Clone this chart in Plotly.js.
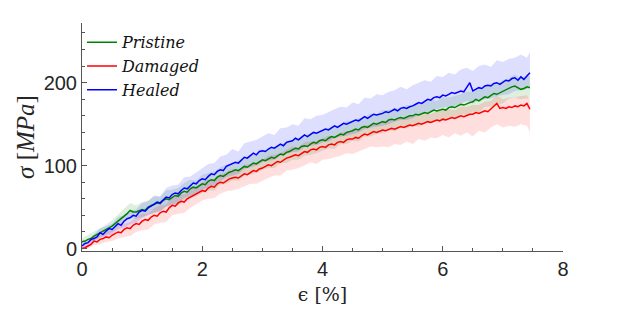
<!DOCTYPE html>
<html>
<head>
<meta charset="utf-8">
<script src="https://cdn.plot.ly/plotly-3.0.1.min.js"></script>
<style>html,body{margin:0;padding:0;background:#fff;}#chart{width:623px;height:312px;}</style>
</head>
<body>
<div id="chart"></div>
<script>
// strain grid for mean curves (%)
const epsMean = [0,0.05,0.1,0.15,0.2,0.25,0.3,0.35,0.4,0.45,0.5,0.55,0.6,0.65,0.7,0.75,0.8,0.85,0.9,0.95,
1,1.05,1.1,1.15,1.2,1.25,1.3,1.35,1.4,1.45,1.5,1.55,1.6,1.65,1.7,1.75,1.8,1.85,1.9,1.95,
2,2.05,2.1,2.15,2.2,2.25,2.3,2.35,2.4,2.45,2.5,2.55,2.6,2.65,2.7,2.75,2.8,2.85,2.9,2.95,
3,3.05,3.1,3.15,3.2,3.25,3.3,3.35,3.4,3.45,3.5,3.55,3.6,3.65,3.7,3.75,3.8,3.85,3.9,3.95,
4,4.05,4.1,4.15,4.2,4.25,4.3,4.35,4.4,4.45,4.5,4.55,4.6,4.65,4.7,4.75,4.8,4.85,4.9,4.95,
5,5.05,5.1,5.15,5.2,5.25,5.3,5.35,5.4,5.45,5.5,5.55,5.6,5.65,5.7,5.75,5.8,5.85,5.9,5.95,
6,6.05,6.1,6.15,6.2,6.25,6.3,6.35,6.4,6.45,6.5,6.55,6.6,6.65,6.7,6.75,6.8,6.85,6.9,6.95,
7,7.05,7.1,7.15,7.2,7.25,7.3,7.35,7.4,7.45];

const healedMean = [3,6,7,11,12,14,19,17,21,24,23,27,30,28,33,36,37,40,39,44,
46,45,49,51,53,56,55,59,62,61,65,67,66,70,73,72,76,79,78,82,
84,83,87,90,89,93,95,94,99,101,102,104,103,107,110,109,112,115,113,117,
118,117,120,122,121,124,126,124,128,129,130,133,131,134,137,135,138,140,139,141,
142,144,143,146,148,146,149,151,150,152,153,155,154,157,159,157,160,162,161,162,
163,165,164,166,168,166,169,170,169,171,172,174,176,175,178,180,179,182,183,182,
185,184,186,188,187,189,190,189,194,200,190,192,194,193,196,197,196,199,200,198,
201,203,202,205,206,203,207,204,208,212];

const pristineMean = [8,9,11,12,15,17,18,21,23,24,27,30,33,35,39,42,46,44,44,46,
47,46,50,52,53,55,54,58,60,59,62,64,63,67,69,68,72,74,73,76,
78,77,81,83,82,86,88,87,90,92,93,95,94,97,99,98,101,103,102,105,
107,106,108,110,109,112,114,113,116,117,119,121,120,123,124,123,126,128,127,130,
131,130,133,135,134,136,138,137,140,141,142,144,143,146,147,146,149,151,150,152,
153,152,155,156,155,157,158,157,159,160,160,162,161,163,164,163,165,167,166,167,
168,167,170,171,170,172,174,173,175,176,177,180,178,181,183,182,185,187,186,188,
189,191,193,195,196,194,192,193,195,194];

const damagedMean = [0,1,3,5,9,8,11,12,14,13,16,18,20,19,23,25,24,28,30,29,
33,35,34,38,40,39,43,45,44,49,52,51,55,57,56,60,62,63,66,68,
70,69,73,75,74,78,80,79,82,84,85,86,85,88,90,89,92,94,93,96,
97,99,101,100,103,105,104,107,109,110,112,113,112,115,117,116,119,120,119,122,
123,122,125,126,125,128,129,128,131,132,132,134,133,136,138,137,139,141,140,142,
143,142,144,145,144,146,147,146,148,149,148,150,151,150,152,153,152,154,155,154,
156,155,157,158,157,159,160,159,161,162,162,164,163,165,166,165,168,171,175,169,
170,169,171,170,172,171,173,172,175,168];

// strain grid for the scatter bands (%)
const epsBand = [0,0.1,0.2,0.3,0.4,0.5,0.6,0.7,0.8,0.9,1,1.1,1.2,1.3,1.4,1.5,1.6,1.7,1.8,1.9,
2,2.1,2.2,2.3,2.4,2.5,2.6,2.7,2.8,2.9,3,3.1,3.2,3.3,3.4,3.5,3.6,3.7,3.8,3.9,
4,4.1,4.2,4.3,4.4,4.5,4.6,4.7,4.8,4.9,5,5.1,5.2,5.3,5.4,5.5,5.6,5.7,5.8,5.9,
6,6.1,6.2,6.3,6.4,6.5,6.6,6.7,6.8,6.9,7,7.1,7.2,7.3,7.4,7.45];

const healedUpper = [6,11,17,24,27,30,38,40,46,47,55,57,64,63,73,76,77,86,87,92,
97,102,103,111,113,120,117,127,129,131,135,139,137,145,146,150,148,157,156,160,
161,165,168,171,170,176,174,182,181,186,185,189,191,195,192,197,200,203,201,208,
207,212,210,216,218,214,220,222,219,227,225,229,230,234,230,237];
const healedLower = [0,3,7,14,15,17,23,25,29,31,37,40,43,45,51,53,55,61,63,66,
71,74,76,81,86,88,90,96,98,100,104,106,107,112,114,116,117,122,124,125,
128,129,133,135,136,138,140,144,146,147,148,150,153,155,155,157,161,163,165,168,
170,171,172,175,178,175,179,180,181,184,185,186,190,191,192,195];

const pristineUpper = [12,16,20,24,29,34,41,47,55,52,56,58,63,62,70,71,73,79,83,82,
89,91,93,98,101,103,106,109,113,112,119,119,122,125,129,130,133,136,139,139,
144,145,148,150,154,154,157,159,163,162,167,167,169,170,173,172,175,176,179,178,
182,182,184,186,189,189,192,195,199,198,203,205,210,205,209,207];
const pristineLower = [5,7,10,12,17,20,26,31,37,36,38,41,43,45,50,52,52,58,61,63,
67,70,70,77,78,82,82,88,89,91,95,97,97,103,103,107,107,112,113,115,
118,121,120,126,126,130,129,135,135,138,139,143,141,146,145,148,147,152,151,154,
154,158,156,162,161,165,164,171,171,174,175,181,182,180,181,181];

const damagedUpper = [3,7,14,16,20,22,27,30,32,38,42,42,49,52,53,61,65,65,72,75,
80,83,83,90,92,96,94,101,102,104,107,112,113,115,119,123,122,128,129,130,
133,136,135,140,141,143,143,149,149,151,153,155,154,158,158,159,161,163,162,166,
166,168,167,171,171,173,173,177,178,185,180,182,182,184,185,179];
const damagedLower = [0,0,4,5,8,9,12,14,15,20,22,23,29,31,32,40,42,43,49,53,
58,60,61,66,69,70,72,75,78,78,82,85,88,88,94,95,97,100,104,102,
107,108,110,112,115,114,117,120,123,122,123,122,126,125,129,126,132,130,134,133,
137,134,139,136,140,135,142,140,146,150,146,148,147,150,148,140];

const seriesNames = ['Pristine', 'Damaged', 'Healed'];
const lineColors = ['#008000', '#ff0000', '#0000ff'];
const bandColors = ['rgba(0,128,0,0.13)', 'rgba(255,0,0,0.13)', 'rgba(0,0,255,0.13)'];

const means = [pristineMean, damagedMean, healedMean];
const uppers = [pristineUpper, damagedUpper, healedUpper];
const lowers = [pristineLower, damagedLower, healedLower];

const traces = [];
for (let i = 0; i < 3; i++) {
  traces.push({x: epsBand, y: lowers[i], type: 'scatter', mode: 'lines',
    line: {width: 0, color: bandColors[i]}, showlegend: false, hoverinfo: 'skip'});
  traces.push({x: epsBand, y: uppers[i], type: 'scatter', mode: 'lines',
    line: {width: 0, color: bandColors[i]}, fill: 'tonexty', fillcolor: bandColors[i],
    showlegend: false, hoverinfo: 'skip'});
}
for (let i = 0; i < 3; i++) {
  traces.push({x: epsMean, y: means[i], type: 'scatter', mode: 'lines',
    name: '<i>' + seriesNames[i] + '</i>',
    line: {width: 1.5, color: lineColors[i]}});
}

const axisColor = '#555';
const layout = {
  width: 623, height: 312,
  margin: {l: 82, r: 60, t: 23, b: 61},
  paper_bgcolor: '#fff', plot_bgcolor: '#fff',
  showlegend: true,
  legend: {x: 0.0, y: 0.99, xanchor: 'left', yanchor: 'top', traceorder: 'normal',
    font: {family: 'DejaVu Serif, Liberation Serif, serif', size: 16, color: '#111'},
    bgcolor: 'rgba(0,0,0,0)', borderwidth: 0, itemwidth: 30, tracegroupgap: 0},
  xaxis: {
    range: [0, 8], tickvals: [0, 2, 4, 6, 8], ticktext: ['0', '2', '4', '6', '8'],
    showgrid: false, zeroline: false, showline: true, linecolor: axisColor, linewidth: 1,
    ticks: 'inside', ticklen: 5, tickcolor: axisColor,
    minor: {dtick: 0.5, tick0: 0, ticks: 'inside', ticklen: 3, tickcolor: axisColor, showgrid: false},
    tickfont: {family: 'Liberation Sans, Arial, sans-serif', size: 20, color: '#262626'},
    title: {text: 'ϵ [%]', standoff: 8,
      font: {family: 'DejaVu Serif, Liberation Serif, serif', size: 19, color: '#262626'}},
    automargin: false
  },
  yaxis: {
    range: [-3, 272], tickvals: [0, 100, 200], ticktext: ['0', '100', '200'],
    showgrid: false, zeroline: false, showline: true, linecolor: axisColor, linewidth: 1,
    ticks: 'inside', ticklen: 5, tickcolor: axisColor,
    minor: {dtick: 20, tick0: 0, ticks: 'inside', ticklen: 3, tickcolor: axisColor, showgrid: false},
    tickfont: {family: 'Liberation Sans, Arial, sans-serif', size: 20, color: '#262626'},
    title: {text: '<i>σ</i> [<i>MPa</i>]', standoff: 1,
      font: {family: 'Liberation Serif, DejaVu Serif, serif', size: 25, color: '#262626'}},
    automargin: false
  }
};

Plotly.newPlot('chart', traces, layout, {displayModeBar: false, staticPlot: true});
</script>
</body>
</html>
